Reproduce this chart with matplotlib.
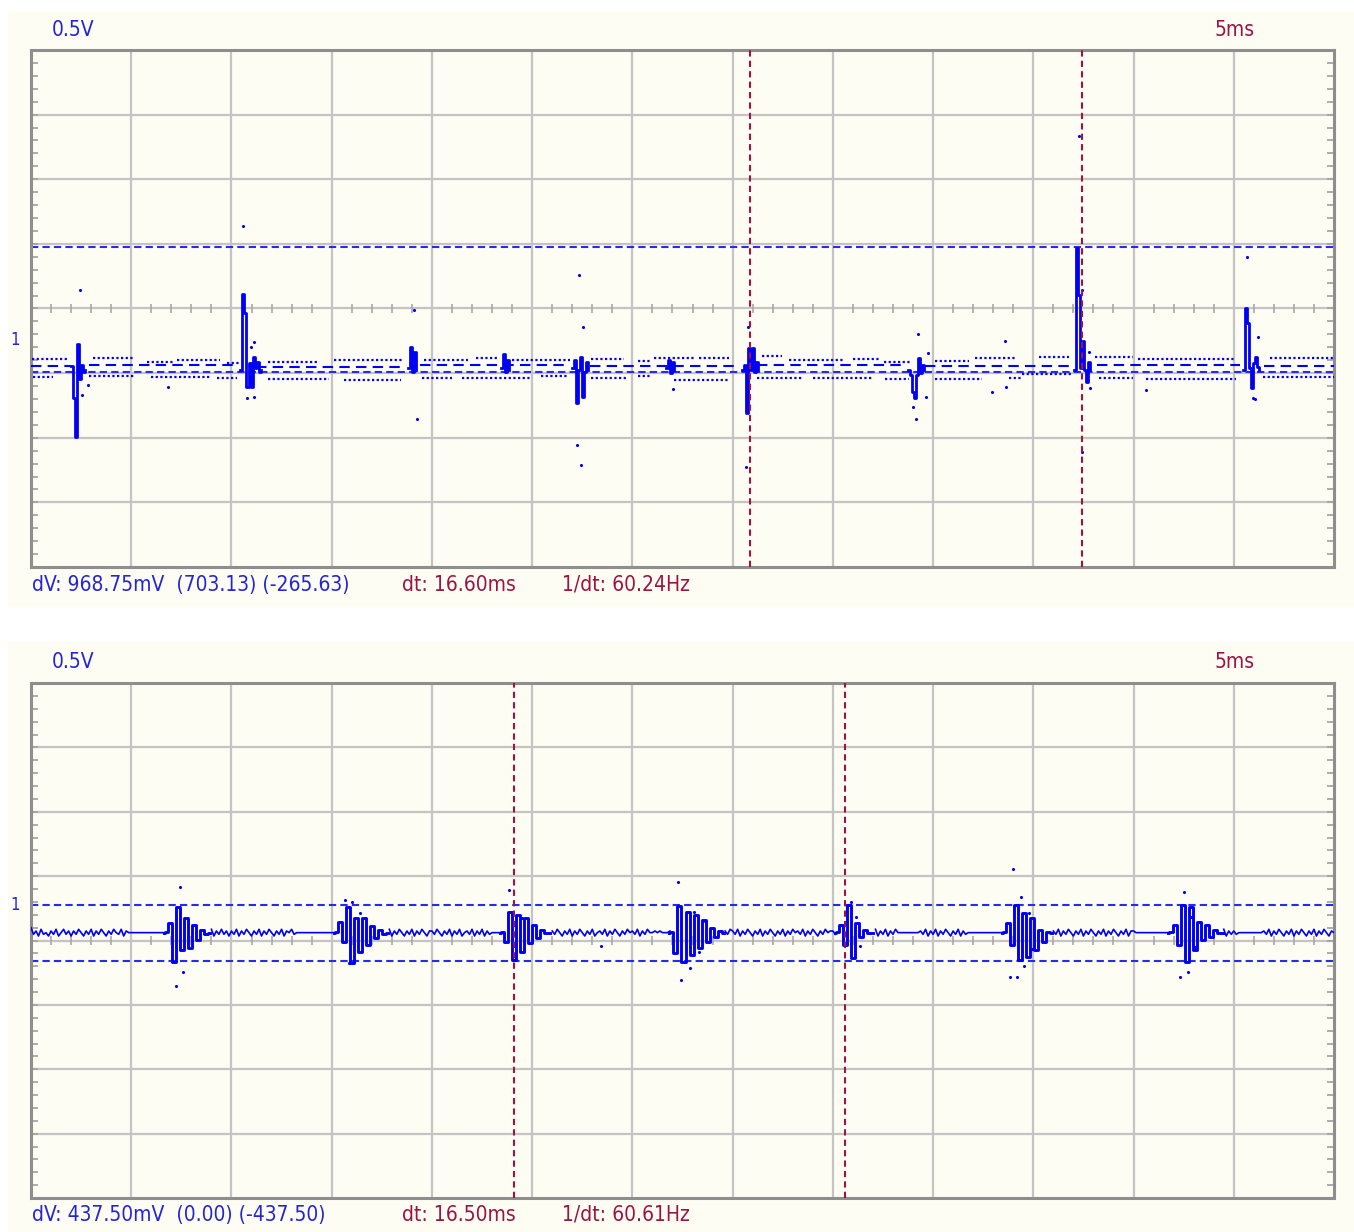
import numpy as np
import matplotlib.pyplot as plt
from matplotlib.patches import Rectangle
from matplotlib import font_manager

W, H = 1354, 1232

# screen: 13 div x 5 ms, 8 div x 0.5 V
t_span = 65.0
top_ylim = (-1.775, 2.225)
bot_ylim = (-2.275, 1.725)

# ---------------- channel 1, upper screen ----------------
top_spike_t = [2.0, 10.45, 18.8, 23.45, 27.0, 31.7, 35.45, 43.75, 52.05, 60.45]
top_spike_v = [
    [-0.22, -0.47, -0.77, -0.05, -0.32, -0.21, -0.27, -0.25],
    [-0.25, 0.34, 0.19, -0.38, -0.20, -0.38, -0.15, -0.235, -0.19, -0.265, -0.25],
    [-0.235, -0.07, -0.265, -0.11, -0.25],
    [-0.235, -0.13, -0.265, -0.17, -0.25],
    [-0.235, -0.17, -0.51, -0.25, -0.15, -0.46, -0.265, -0.19, -0.25],
    [-0.235, -0.17, -0.275, -0.19, -0.25],
    [-0.25, -0.21, -0.58, -0.08, -0.25, -0.08, -0.265, -0.19, -0.25],
    [-0.25, -0.29, -0.42, -0.47, -0.29, -0.155, -0.275, -0.21, -0.25],
    [-0.25, 0.695, 0.33, -0.235, -0.03, -0.25, -0.345, -0.19, -0.25],
    [-0.25, 0.23, 0.115, -0.235, -0.39, -0.195, -0.15, -0.225, -0.25],
]
top_dot_t = [2.45, 2.55, 2.85, 6.85, 10.6, 10.8, 11.1, 10.95, 11.1, 19.1, 19.25,
             27.35, 27.55, 27.25, 27.45, 32.05, 35.75, 35.65, 44.25, 44.75, 44.0,
             44.15, 44.65, 48.6, 48.65, 52.3, 52.45, 52.45, 52.85, 52.8, 60.65,
             61.2, 60.95, 61.05, 55.6, 47.95]
top_dot_v = [0.37, -0.444, -0.367, -0.382, 0.866, -0.467, -0.46, -0.072, -0.033, 0.215, -0.63,
             0.486, 0.083, -0.832, -0.986, -0.398, 0.083, -1.002, 0.029, -0.119, -0.537,
             -0.63, -0.46, -0.026, -0.382, 1.556, 0.37, -0.886, -0.39, -0.111, 0.626,
             0.005, -0.467, -0.475, -0.405, -0.42]
# dotted rows of the noise band: (start ms, end ms, level V)
top_upper_runs = [(0.05, 1.85, -0.165), (3.1, 5.1, -0.155), (5.8, 7.1, -0.19), (7.3, 9.45, -0.175),
                  (9.8, 10.4, -0.195), (11.8, 14.3, -0.19), (15.1, 18.6, -0.17), (19.6, 21.8, -0.175),
                  (22.2, 23.3, -0.16), (24.0, 26.9, -0.175), (27.95, 29.6, -0.165), (30.3, 30.95, -0.18),
                  (31.1, 33.1, -0.155), (33.3, 34.8, -0.16), (36.45, 37.45, -0.145), (37.8, 40.5, -0.17),
                  (41.0, 42.3, -0.165), (42.55, 43.95, -0.19), (45.1, 46.8, -0.18), (47.1, 49.1, -0.155),
                  (50.3, 51.8, -0.15), (53.1, 54.95, -0.15), (55.2, 60.1, -0.165), (61.8, 65.1, -0.16)]
top_lower_runs = [(0.1, 1.1, -0.305), (2.9, 5.2, -0.295), (6.0, 9.0, -0.305), (9.3, 10.3, -0.31),
                  (11.8, 14.85, -0.32), (15.6, 18.45, -0.325), (19.5, 21.0, -0.31), (21.5, 25.0, -0.315),
                  (25.45, 26.8, -0.30), (27.95, 29.8, -0.31), (30.3, 30.95, -0.30), (32.1, 34.8, -0.325),
                  (36.2, 38.5, -0.31), (39.0, 42.0, -0.315), (42.6, 43.8, -0.32), (45.1, 47.45, -0.32),
                  (48.8, 49.45, -0.31), (49.45, 51.95, -0.28), (53.3, 54.95, -0.31), (55.6, 60.1, -0.32),
                  (61.45, 65.1, -0.305)]
top_mid_runs = [(0.0, 2.0, -0.22), (2.9, 10.3, -0.215), (11.2, 18.7, -0.225), (19.4, 26.9, -0.215),
                (27.9, 35.3, -0.22), (36.2, 43.6, -0.215), (44.6, 52.0, -0.22), (53.2, 60.3, -0.215),
                (61.5, 65.1, -0.22)]
top_cursor_v = [0.70313, -0.26563]
top_cursor_t = [35.85, 52.45]

# ---------------- channel 1, lower screen ----------------
bot_base = -0.214
bot_noise_step = 0.125   # ms per sample
bot_noise_unit = 0.013   # V per code step, '4' = baseline
bot_noise_chunks = [  # one chunk per 5 ms
    "7352634253 6246352536 4253625364 2536436254",
    "4444444444 4444444444 44444444 6273625363 52",
    "5362536425 3625364253 625463 44444444444444",
    "444 444444444444 5273625362 5364253625 36425",
    "5364253625 3624536253 6253 44444 44444444444",
    "6372536253 6425362536 4253624536 2536425364",
    "53625364 454544454 44444444444444 627362536",
    "5362536425 3625364253 6253645362 5364253645",
    "536 4444444444 62736253625364 44444444 53625",
    "3625364253 6253 444444444444444 44444444444",
    "4462736253 6253642536 2536425362 5364253625",
    "5 444444444444444 444444444444 627362536253",
    "53 4444444444 5362536425 3625364253 625364254",
]
bot_burst_t = [6.75, 15.23, 23.5, 31.95, 40.22, 48.55, 56.85]
bot_burst_step = 0.2
bot_burst_v = [
    [-0.210, -0.140, -0.443, -0.016, -0.350, -0.101, -0.334, -0.155, -0.272, -0.194, -0.225],
    [-0.210, -0.132, -0.287, -0.016, -0.450, -0.101, -0.365, -0.101, -0.311, -0.163, -0.256, -0.194, -0.225],
    [-0.210, -0.287, -0.054, -0.427, -0.078, -0.365, -0.101, -0.295, -0.155, -0.256, -0.194, -0.218],
    [-0.210, -0.373, -0.008, -0.443, -0.054, -0.388, -0.078, -0.334, -0.117, -0.287, -0.179, -0.249, -0.202],
    [-0.210, -0.155, -0.311, 0.0, -0.412, -0.140, -0.249, -0.194, -0.218],
    [-0.210, -0.140, -0.311, 0.0, -0.427, -0.062, -0.404, -0.101, -0.350, -0.194, -0.287, -0.210],
    [-0.210, -0.155, -0.311, 0.0, -0.443, -0.016, -0.350, -0.132, -0.272, -0.155, -0.249, -0.194, -0.218],
]
bot_dot_t = [7.45, 7.6, 7.25, 15.65, 16.0, 16.4, 15.85, 23.85, 24.5, 32.3, 33.05, 33.5, 32.85,
             32.45, 33.3, 40.9, 41.15, 41.35, 49.0, 49.4, 49.8, 49.55, 48.85, 49.2, 49.95,
             57.5, 57.85, 57.3, 57.7, 58.05, 28.45]
bot_dot_v = [0.14, -0.52, -0.629, 0.039, 0.026, -0.062, -0.45, 0.117, -0.101, 0.179, -0.054, -0.124, -0.489,
             -0.583, -0.365, 0.023, -0.093, -0.318, 0.28, 0.062, -0.062, -0.474, -0.559, -0.559, -0.342,
             0.101, -0.093, -0.559, -0.52, -0.326, -0.318]
bot_cursor_v = [0.0, -0.4375]
bot_cursor_t = [24.1, 40.6]

# ---------------- labels ----------------
volt_label = "0.5V"
time_label = "5ms"
top_readout = ["dV: 968.75mV  (703.13) (-265.63)", "dt: 16.60ms", "1/dt: 60.24Hz"]
bot_readout = ["dV: 437.50mV  (0.00) (-437.50)", "dt: 16.50ms", "1/dt: 60.61Hz"]

cream = "#fdfdf3"
grid_c = "#c4c4c4"
frame_c = "#8e8e8e"
trace_c = "#0000f6"
blue_txt = "#2424d8"
red_c = "#9c1444"

# narrow UI-like font if one is available
names = {f.name for f in font_manager.fontManager.ttflist}
condensed = [f for f in font_manager.fontManager.ttflist
             if f.name == "DejaVu Sans" and "ondensed" in f.fname and "Bold" not in f.fname]
if "Liberation Sans Narrow" in names:
    font_kw = dict(family="Liberation Sans Narrow", fontsize=17)
elif condensed:
    font_kw = dict(family="DejaVu Sans", stretch="condensed", fontsize=15)
else:
    font_kw = dict(family="Liberation Sans", fontsize=14)

fig = plt.figure(figsize=(W / 100, H / 100), dpi=100)
fig.patch.set_facecolor("white")
fig.patches.append(Rectangle((8 / W, 1 - 606 / H), 1 - 8 / W, 594 / H,
                             transform=fig.transFigure, color=cream, zorder=-5))
fig.patches.append(Rectangle((8 / W, 0), 1 - 8 / W, 1 - 642 / H,
                             transform=fig.transFigure, color=cream, zorder=-5))

ax_top = fig.add_axes([31 / W, 1 - 567 / H, 1303 / W, 517 / H])
ax_bot = fig.add_axes([31 / W, 1 - 1198 / H, 1303 / W, 515 / H])


def setup_screen(ax, ylim):
    ax.set_zorder(2)
    ax.set_xlim(0, t_span)
    ax.set_ylim(*ylim)
    ax.set_facecolor(cream)
    for s in ax.spines.values():
        s.set_color(frame_c)
        s.set_linewidth(2.2)
    ax.set_xticks([])
    y0 = ylim[0]
    ax.set_yticks(y0 + 0.1 * np.arange(1, 40))
    ax.tick_params(axis="y", direction="in", length=5, width=1.2, color="#a0a0a0",
                   left=True, right=True, labelleft=False)
    for k in range(1, 13):
        ax.axvline(5 * k, color=grid_c, lw=1.6, zorder=1)
    for k in range(1, 8):
        ax.axhline(y0 + 0.5 * k, color=grid_c, lw=1.6, zorder=1)
    # small ticks on the centre line
    yc = y0 + 2.0
    tt = np.array([m for m in range(1, 65) if m % 5])
    ax.vlines(tt, yc - 0.032, yc + 0.032, color="#a8a8a8", lw=1.2, zorder=1)


setup_screen(ax_top, top_ylim)
setup_screen(ax_bot, bot_ylim)

# cursors
for ax, cv, ct in [(ax_top, top_cursor_v, top_cursor_t), (ax_bot, bot_cursor_v, bot_cursor_t)]:
    for v in cv:
        ax.axhline(v, color="#2a2aee", lw=1.5, ls=(0, (3.5, 2)), zorder=2)
    for t in ct:
        ax.axvline(t, color=red_c, lw=1.5, ls=(0, (3, 2)), zorder=5)

# upper trace: dotted noise band + spikes
for t0, t1, v in top_upper_runs + top_lower_runs:
    ax_top.plot([t0, t1], [v, v], color=trace_c, lw=1.6, ls=(0, (1, 1.1)), zorder=3)
for t0, t1, v in top_mid_runs:
    ax_top.plot([t0, t1], [v, v], color=trace_c, lw=1.5, ls=(0, (5, 3)), zorder=3)
for t0, vals in zip(top_spike_t, top_spike_v):
    ts = t0 + 0.1 * np.arange(len(vals))
    ax_top.plot(ts, vals, color=trace_c, lw=2.0, drawstyle="steps-post", zorder=4)
ax_top.scatter(top_dot_t, top_dot_v, s=5, color=trace_c, lw=0, zorder=4)

# lower trace: noise line with ringing bursts
nt, nv = [], []
for k, chunk in enumerate(bot_noise_chunks):
    codes = chunk.replace(" ", "")
    for j, c in enumerate(codes):
        nt.append(5 * k + bot_noise_step * j)
        nv.append(bot_base + (int(c) - 4) * bot_noise_unit)
nt = np.array(nt)
nv = np.array(nv)
keep = np.ones(len(nt), bool)
for t0, vals in zip(bot_burst_t, bot_burst_v):
    t1 = t0 + bot_burst_step * len(vals)
    keep &= ~((nt >= t0) & (nt <= t1))
# split the noise line where a burst sits
idx = np.flatnonzero(keep)
gaps = np.where(np.diff(idx) > 1)[0]
for part in np.split(idx, gaps + 1):
    ax_bot.plot(nt[part], nv[part], color=trace_c, lw=1.2, zorder=3)
for t0, vals in zip(bot_burst_t, bot_burst_v):
    ts = t0 + bot_burst_step * np.arange(len(vals))
    # join to the baseline noise on both sides
    ts = np.concatenate([[t0 - 0.12], ts, [ts[-1] + 0.2]])
    vs = np.concatenate([[bot_base], vals, [bot_base]])
    ax_bot.plot(ts, vs, color=trace_c, lw=2.1, drawstyle="steps-mid", zorder=4)
ax_bot.scatter(bot_dot_t, bot_dot_v, s=5, color=trace_c, lw=0, zorder=4)


def px(x, y):
    return x / W, 1 - y / H


for y_lab, y_read, y_one, readout in [(30, 585, 340, top_readout), (662, 1215, 905, bot_readout)]:
    fig.text(*px(52, y_lab), volt_label, color=blue_txt, va="center", **font_kw)
    fig.text(*px(1215, y_lab), time_label, color=red_c, va="center", **font_kw)
    fig.text(*px(10, y_one), "1", color=blue_txt, va="center",
             **dict(font_kw, fontsize=font_kw["fontsize"] - 3))
    fig.text(*px(32, y_read), readout[0], color=blue_txt, va="center", **font_kw)
    fig.text(*px(402, y_read), readout[1], color=red_c, va="center", **font_kw)
    fig.text(*px(562, y_read), readout[2], color=red_c, va="center", **font_kw)

fig.savefig("out.png", dpi=100, facecolor="white")
